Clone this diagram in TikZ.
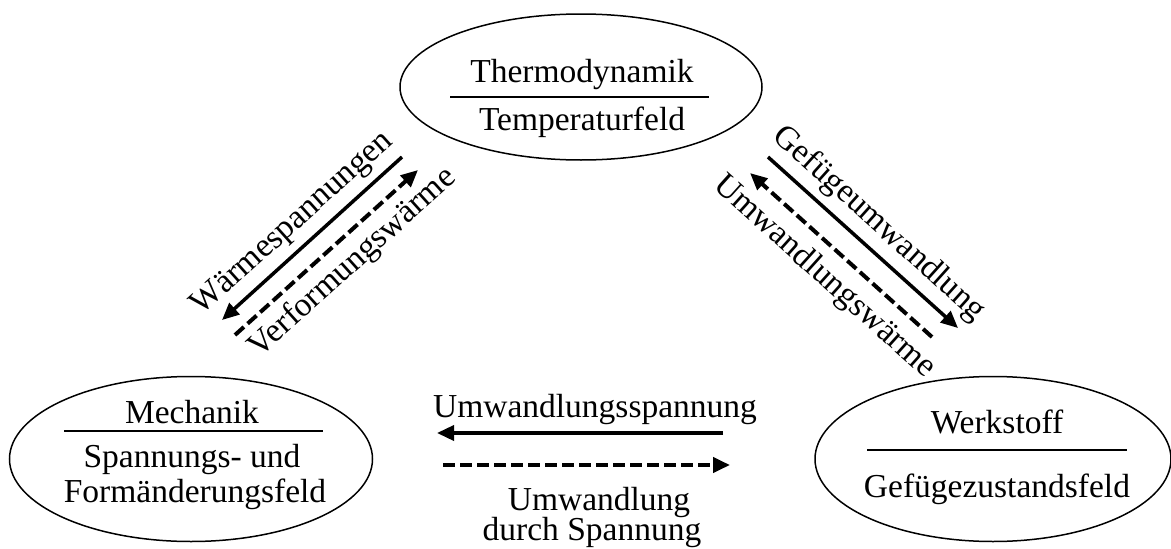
\documentclass[tikz,border=0pt]{standalone}
\usepackage{fontspec}
\setmainfont{Liberation Serif}
\usetikzlibrary{arrows.meta,shapes.geometric}
\begin{document}
\begin{tikzpicture}[x=1pt,y=-1pt,
  field/.style={draw, ellipse, line width=1.5pt, inner sep=0pt},
  lbl/.style={font=\fontsize{33.5}{40}\selectfont, inner sep=0pt},
  rule/.style={line width=1.5pt},
  flow/.style={line width=3.5pt, -{Triangle[length=17pt,width=15pt]}},
  backflow/.style={flow, line width=4pt, dash pattern=on 12pt off 5pt}]
\useasboundingbox (0,0) rectangle (1171,549);

% the three fields
\node[field, minimum width=362pt, minimum height=146pt] (thermo) at (581,87) {};
\node[field, minimum width=363pt, minimum height=165pt] (mech) at (191,459) {};
\node[field, minimum width=356pt, minimum height=165pt] (werk) at (993,459) {};

% Thermodynamik
\node[lbl, anchor=base] (thT) at (582,82) {Thermodynamik};
\draw[rule] (450,97) coordinate (thL) -- (709,97) coordinate (thR);
\node[lbl, anchor=base] (thB) at (582,130) {Temperaturfeld};

% Mechanik
\node[lbl, anchor=base] (meT) at (192,423) {Mechanik};
\draw[rule] (64,431) coordinate (meL) -- (323,431) coordinate (meR);
\node[lbl, anchor=base] (meB1) at (192,467) {Spannungs- und};
\node[lbl, anchor=base] (meB2) at (195,502) {Formänderungsfeld};

% Werkstoff
\node[lbl, anchor=base] (weT) at (997,433) {Werkstoff};
\draw[rule] (867,450) coordinate (weL) -- (1127,450) coordinate (weR);
\node[lbl, anchor=base] (weB) at (997,497) {Gefügezustandsfeld};

% Thermodynamik <-> Mechanik
\coordinate (a1s) at (402,157); \coordinate (a1e) at (222,320);
\coordinate (a2s) at (235,335); \coordinate (a2e) at (418,170);
\draw[flow] (a1s) -- (a1e);
\draw[backflow] (a2s) -- (a2e);
\node[lbl, rotate=42] (waerme) at (293,224) {Wärmespannungen};
\node[lbl, rotate=42] (verf) at (353,263) {Verformungswärme};

% Thermodynamik <-> Werkstoff
\coordinate (b1s) at (768,157); \coordinate (b1e) at (958,328);
\coordinate (b2s) at (932,337); \coordinate (b2e) at (750,173);
\draw[flow] (b1s) -- (b1e);
\draw[backflow] (b2s) -- (b2e);
\node[lbl, rotate=-42] (gefu) at (879,224) {Gefügeumwandlung};
\node[lbl, rotate=-42] (umww) at (824,277) {Umwandlungswärme};

% Werkstoff <-> Mechanik
\coordinate (c1s) at (723,433); \coordinate (c1e) at (437,433);
\coordinate (c2s) at (443,465); \coordinate (c2e) at (730,465);
\draw[flow] (c1s) -- (c1e);
\draw[backflow] (c2s) -- (c2e);
\node[lbl, anchor=base] (umsp) at (595,417) {Umwandlungsspannung};
\node[lbl, anchor=base] (umw1) at (599,510) {Umwandlung};
\node[lbl, anchor=base] (umw2) at (592,540) {durch Spannung};
\end{tikzpicture}
\end{document}
